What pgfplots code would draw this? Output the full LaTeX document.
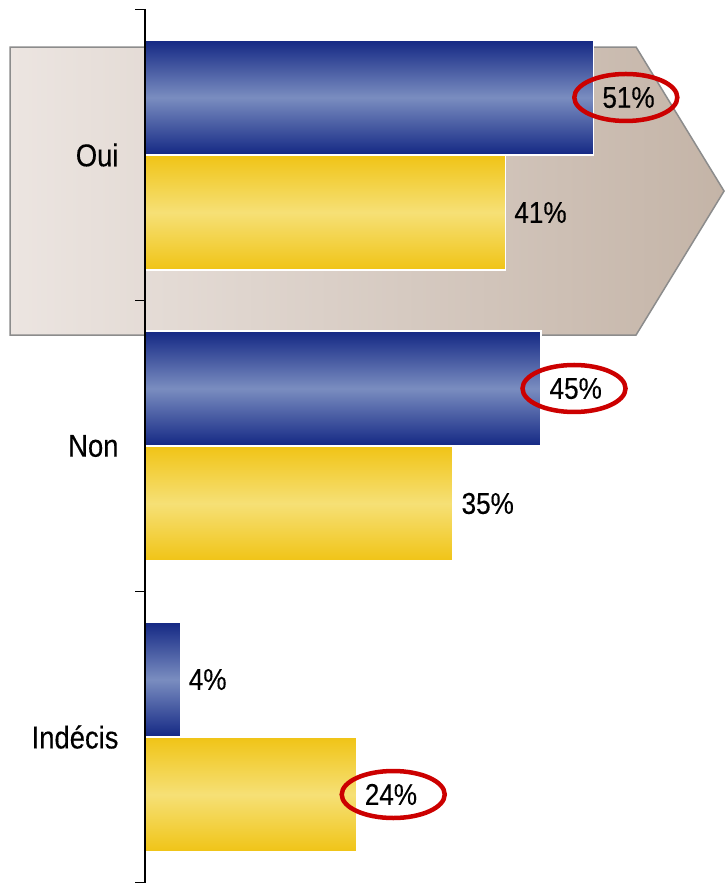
\documentclass[border=0pt]{standalone}
\usepackage{pgfplots}
\pgfplotsset{compat=1.18}
\usetikzlibrary{shapes.geometric}
\usepackage{fontspec}
\setmainfont{Liberation Sans}[FakeStretch=0.87,FakeBold=0.3]
\definecolor{navy}{RGB}{20,40,132}
\definecolor{lightblue}{RGB}{122,141,192}
\definecolor{gold}{RGB}{240,196,22}
\definecolor{paleyellow}{RGB}{246,224,118}
\definecolor{arrowL}{RGB}{236,229,225}
\definecolor{arrowR}{RGB}{196,180,167}
\definecolor{ringred}{RGB}{204,0,0}

\begin{document}
\begin{tikzpicture}
\begin{axis}[scale only axis,width=572pt,height=873pt,
  xmin=0,xmax=65,ymin=-0.5,ymax=2.5,y dir=reverse,
  axis x line=none,axis y line*=left,
  axis line style={line width=1.6pt,-},
  xtick=\empty,ytick={0,1,2},yticklabels={Oui,Non,Ind\'ecis},
  major tick length=0pt,minor ytick={-0.5,0.5,1.5,2.5},
  minor tick length=10pt,tick align=outside,
  minor tick style={line width=1.6pt,black},
  yticklabel style={font=\fontsize{31.5}{36}\selectfont,xshift=-23pt},
  clip=false,axis on top,
  /pgf/number format/assume math mode=true,
  xbar,bar width=0.395,
  nodes near coords={\pgfmathprintnumber{\pgfplotspointmeta}\%},
  every node near coord/.append style={font=\fontsize{30}{36}\selectfont,
    anchor=west,inner sep=0pt,xshift=8pt,text=black},
  bluebar/.style={bar shift=-0.1976,draw=white,line width=1.2pt,
    top color=navy,bottom color=navy,middle color=lightblue},
  yellowbar/.style={bar shift=0.1976,draw=white,line width=1.2pt,
    top color=gold,bottom color=gold,middle color=paleyellow},
  ring/.style={draw=none,fill=none,nodes near coords={\phantom{0}},
    every node near coord/.append style={ellipse,draw=ringred,
      line width=4.5pt,minimum width=103pt,minimum height=47pt,
      anchor=center,xshift=#1}}]
% background arrow behind "Oui"
\path (axis cs:-16.48,-0.5326) rectangle (axis cs:65.8,2.5086);
\draw[draw=gray!90,line width=1.5pt,left color=arrowL,right color=arrowR]
  (axis cs:-15.34,-0.371) -- (axis cs:55.8,-0.371) -- (axis cs:65.8,0.124)
  -- (axis cs:55.8,0.6186) -- (axis cs:-15.34,0.6186) -- cycle;
% one plot per bar so that each bar gets its own gradient
\addplot[bluebar] coordinates {(51,0)};
\addplot[yellowbar] coordinates {(41,0)};
\addplot[bluebar] coordinates {(45,1)};
\addplot[yellowbar] coordinates {(35,1)};
\addplot[bluebar] coordinates {(4,2)};
\addplot[yellowbar] coordinates {(24,2)};
% red rings round the highlighted values
\addplot[bar shift=-0.1976,ring=24pt] coordinates {(51,0)};
\addplot[bar shift=-0.1976,ring=25pt] coordinates {(45,1)};
\addplot[bar shift=0.1976,ring=29pt] coordinates {(24,2)};
\end{axis}
\end{tikzpicture}
\end{document}
